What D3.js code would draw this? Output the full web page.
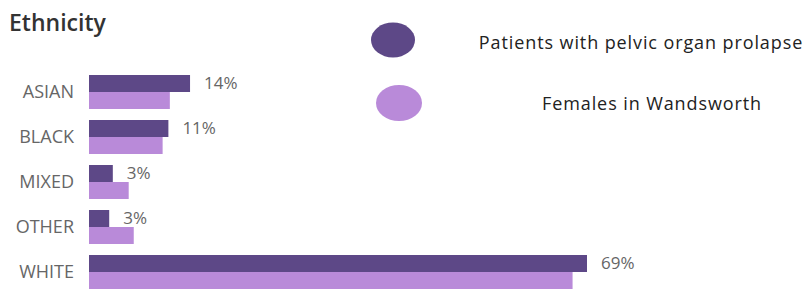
<!DOCTYPE html>
<html><head><meta charset="utf-8">
<script src="https://cdn.jsdelivr.net/npm/d3@7"></script>
<style>
html,body{margin:0;padding:0;background:#fff;}
svg{display:block;font-family:"Open Sans",sans-serif;}
</style></head>
<body><svg id="c" width="808" height="294"></svg>
<script>
const title = "Ethnicity";
const categories = ["ASIAN","BLACK","MIXED","OTHER","WHITE"];
const seriesNames = ["Patients with pelvic organ prolapse","Females in Wandsworth"];
const patients = [14, 11, 3.3, 2.8, 69];
const females = [11.2, 10.2, 5.5, 6.2, 67];
const patientLabels = ["14%","11%","3%","3%","69%"];
const colors = ["#5d4887","#b98ad9"];

const svg = d3.select("#c");
const x = d3.scaleLinear().domain([0, 69]).range([89, 587]);
const y = d3.scaleBand().domain(categories).range([75, 289]).paddingInner(11/45).paddingOuter(0);
const ys = d3.scaleBand().domain([0,1]).range([0, y.bandwidth()]);

svg.append("text").attr("x", 9).attr("y", 31).text(title)
  .attr("font-size", 23).attr("font-weight", 600).attr("fill", "#333");

const rows = categories.map((c,i)=>({c, v:[patients[i], females[i]], lab: patientLabels[i]}));
const g = svg.selectAll("g.row").data(rows).join("g").attr("class","row")
  .attr("transform", d=>`translate(0,${y(d.c)})`);
g.selectAll("rect").data(d=>d.v).join("rect")
  .attr("x", x(0)).attr("y", (v,j)=>ys(j)).attr("height", ys.bandwidth())
  .attr("width", v=>x(v)-x(0)).attr("fill", (v,j)=>colors[j]);
g.append("text").attr("x", x(0)-15).attr("y", y.bandwidth()/2).attr("dy","0.35em")
  .attr("text-anchor","end").attr("font-size", 18).attr("fill","#666").text(d=>d.c);
g.append("text").attr("x", d=>x(d.v[0])+14).attr("y", ys.bandwidth()/2).attr("dy","0.35em")
  .attr("font-size", 17).attr("fill","#666").text(d=>d.lab);

const legend = [{cx:393, cy:40, rx:22, ry:17.5, tx:641, ty:42.7},{cx:399, cy:103, rx:23, ry:18, tx:652, ty:103.7}];
legend.forEach((l,i)=>{
  svg.append("ellipse").attr("cx", l.cx).attr("cy", l.cy).attr("rx", l.rx).attr("ry", l.ry).attr("fill", colors[i]);
  svg.append("text").attr("x", l.tx).attr("y", l.ty).attr("dy","0.35em").attr("text-anchor","middle")
    .attr("font-size", 18).attr("letter-spacing", "0.9px").attr("fill","#222").text(seriesNames[i]);
});
</script></body></html>
